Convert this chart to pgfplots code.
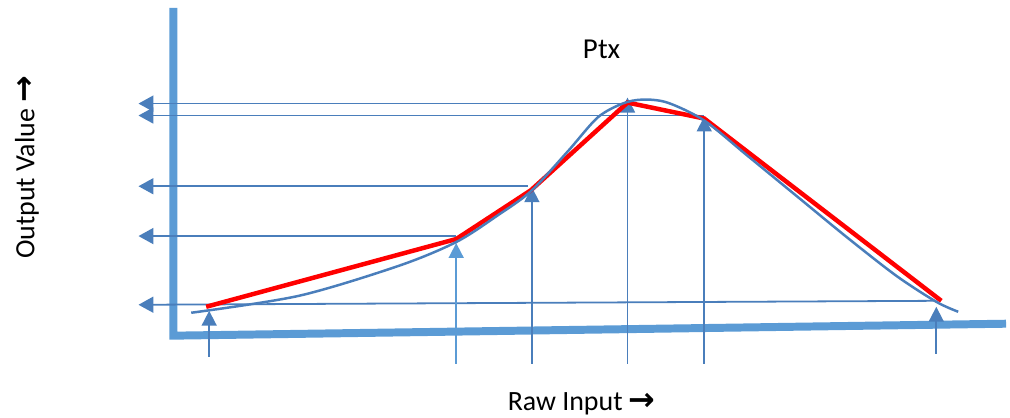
\documentclass[border=0pt]{standalone}
\usepackage{pgfplots}
\pgfplotsset{compat=1.18}
\usepackage{fontspec}
\setmainfont{Carlito}
\newfontfamily\arrowfont{DejaVu Sans}
\usetikzlibrary{arrows.meta}
\definecolor{axblue}{RGB}{91,155,213}
\definecolor{arblue}{RGB}{74,126,187}
\begin{document}
\begin{tikzpicture}
\begin{axis}[
  width=1010pt, height=418pt, scale only axis,
  xmin=0, xmax=1010, ymin=0, ymax=418,
  hide axis, clip=false,
]
\addplot[draw=none] coordinates {(0,0) (1010,418)};
% thick axes
\addplot[axblue, line width=8pt, line join=miter] coordinates {(174,410) (174,81) (1010,93)};
% horizontal arrows
\addplot[arblue, line width=1.8pt, -{Triangle[width=16pt,length=15pt]}] coordinates {(630,314) (139,314)};
\addplot[arblue, line width=1.8pt, -{Triangle[width=16pt,length=15pt]}] coordinates {(707,302) (139,302)};
\addplot[arblue, line width=1.8pt, -{Triangle[width=16pt,length=15pt]}] coordinates {(530,231) (139,231)};
\addplot[arblue, line width=1.8pt, -{Triangle[width=16pt,length=15pt]}] coordinates {(458,181) (139,181)};
\addplot[arblue, line width=1.8pt, -{Triangle[width=16pt,length=15pt]}] coordinates {(940,116) (139,112)};
% vertical arrows
\addplot[arblue, line width=1.8pt, -{Triangle[width=15pt,length=15pt]}] coordinates {(210,60) (210,106)};
\addplot[axblue, line width=1.8pt, -{Triangle[width=15pt,length=15pt]}] coordinates {(458,53) (458,174)};
\addplot[arblue, line width=1.8pt, -{Triangle[width=15pt,length=15pt]}] coordinates {(534,53) (534,230)};
\addplot[arblue, line width=1.8pt, -{Triangle[width=15pt,length=15pt]}] coordinates {(630,53) (630,320)};
\addplot[arblue, line width=1.8pt, -{Triangle[width=15pt,length=15pt]}] coordinates {(707,53) (707,301)};
\addplot[arblue, line width=1.8pt, -{Triangle[width=15pt,length=15pt]}] coordinates {(940,63) (940,110)};
% red polyline
\addplot[red, line width=4.5pt] coordinates {(207,110) (458,178) (533,227) (630,315) (707,299) (945,116)};
% blue smooth curve
\addplot[arblue, line width=2.5pt, smooth, tension=0.5] coordinates {
 (192,104) (300,121) (400,151) (458,175) (500,202) (533,226) (570,266) (600,300)
 (625,314) (645,318) (670,315) (707,297) (750,262) (800,221) (850,180) (900,141)
 (940,115) (962,105)};
% texts
\node[font=\fontsize{29}{34}\selectfont] at (axis cs:604,368) {Ptx};
\node[font=\fontsize{28}{33}\selectfont] at (axis cs:584,13) {Raw Input {\arrowfont\bfseries\fontsize{32}{34}\selectfont →}};
\node[font=\fontsize{28}{33}\selectfont, rotate=90] at (axis cs:27,250) {Output Value {\arrowfont\bfseries\fontsize{32}{34}\selectfont →}};
\end{axis}
\end{tikzpicture}
\end{document}
